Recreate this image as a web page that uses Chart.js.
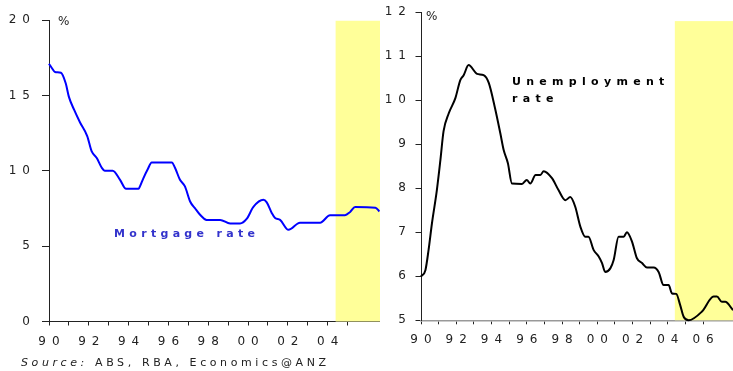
<!DOCTYPE html>
<html>
<head>
<meta charset="utf-8">
<script src="https://cdn.jsdelivr.net/npm/chart.js@4/dist/chart.umd.min.js"></script>
<style>
  body { margin: 0; background: #fff; width: 733px; height: 371px; overflow: hidden; position: relative; }
  #left { position: absolute; left: 0; top: 0; }
  #right { position: absolute; left: 380px; top: 0; }
  #source { position: absolute; left: 21px; top: 356px; font: 11px "DejaVu Sans", sans-serif; letter-spacing: 3.6px; color: #222; white-space: nowrap; }
</style>
</head>
<body>
<canvas id="left" width="380" height="371"></canvas>
<canvas id="right" width="353" height="371"></canvas>
<div id="source"><i>Source:</i> ABS, RBA, Economics@ANZ</div>
<script>
// mortgage rate, % (decimal year -> value)
const mortgageDates = [1990.0, 1990.15, 1990.3, 1990.6, 1990.84, 1991.0, 1991.26, 1991.56, 1991.92, 1992.14,
  1992.4, 1992.65, 1992.8, 1993.2, 1993.57, 1993.87, 1994.5, 1994.57, 1994.74, 1994.96,
  1995.16, 1996.17, 1996.33, 1996.58, 1996.83, 1997.09, 1997.34, 1997.59, 1997.92, 1998.6,
  1999.1, 1999.6, 1999.93, 2000.27, 2000.77, 2000.94, 2001.19, 2001.36, 2001.61, 2002.03,
  2002.61, 2003.62, 2004.12, 2004.87, 2005.13, 2005.38, 2006.4, 2006.6];
const mortgageRates = [17.1, 16.8, 16.55, 16.5, 15.8, 14.9, 14.05, 13.2, 12.3, 11.3,
  10.85, 10.2, 10.0, 10.0, 9.4, 8.8, 8.8, 8.96, 9.5, 10.1,
  10.55, 10.55, 10.2, 9.4, 8.96, 7.96, 7.5, 7.08, 6.74, 6.74,
  6.5, 6.5, 6.8, 7.6, 8.07, 7.9, 7.2, 6.86, 6.74, 6.08,
  6.55, 6.55, 7.05, 7.05, 7.27, 7.6, 7.55, 7.3];

// unemployment rate, %
const unempDates = [1990.0, 1990.25, 1990.43, 1990.62, 1990.9, 1991.1, 1991.28, 1991.57, 1991.95, 1992.23,
  1992.42, 1992.7, 1993.18, 1993.55, 1993.84, 1994.2, 1994.5, 1994.69, 1994.93, 1995.16,
  1995.73, 1996.0, 1996.2, 1996.5, 1996.77, 1996.96, 1997.43, 1997.8, 1998.19, 1998.47,
  1998.75, 1999.04, 1999.32, 1999.5, 1999.79, 2000.08, 2000.27, 2000.45, 2000.74, 2000.93,
  2001.21, 2001.5, 2001.68, 2001.97, 2002.25, 2002.54, 2002.82, 2003.2, 2003.48, 2003.76,
  2004.05, 2004.24, 2004.48, 2004.7, 2004.9, 2005.18, 2005.94, 2006.6, 2006.79, 2007.07,
  2007.26, 2007.7];
const unempRates = [6.0, 6.14, 6.6, 7.2, 7.96, 8.64, 9.3, 9.7, 10.05, 10.46,
  10.57, 10.8, 10.6, 10.57, 10.4, 9.82, 9.25, 8.87, 8.57, 8.11,
  8.1, 8.19, 8.11, 8.3, 8.3, 8.39, 8.23, 7.96, 7.73, 7.8,
  7.58, 7.13, 6.9, 6.9, 6.6, 6.45, 6.3, 6.1, 6.18, 6.37,
  6.9, 6.9, 7.0, 6.79, 6.41, 6.3, 6.2, 6.2, 6.1, 5.8,
  5.8, 5.61, 5.6, 5.35, 5.08, 5.0, 5.2, 5.54, 5.54, 5.42,
  5.42, 5.23];

const forecastStart = 2004.4;
const leftYTicks = [0, 5, 10, 15, 20];
const rightYTicks = [5, 6, 7, 8, 9, 10, 11, 12];
const leftXLabels = ['90', '92', '94', '96', '98', '00', '02', '04'];
const rightXLabels = ['90', '92', '94', '96', '98', '00', '02', '04', '06'];

const FONT = '"DejaVu Sans", sans-serif';

// the source chart uses wide letter spacing, so draw text char by char
function spacedText(ctx, text, x, y, gap, align) {
  const chars = [...text];
  const w = chars.map(c => ctx.measureText(c).width);
  const total = w.reduce((a, b) => a + b, 0) + gap * (chars.length - 1);
  let cx = align === 'center' ? x - total / 2 : align === 'right' ? x - total : x;
  ctx.textAlign = 'left';
  chars.forEach((c, i) => { ctx.fillText(c, cx, y); cx += w[i] + gap; });
}

// yellow shading for the forecast period
const shade = {
  id: 'shade',
  beforeDatasetsDraw(chart, args, opts) {
    const { ctx, chartArea } = chart;
    const x = chart.scales.x, y = chart.scales.y;
    const x0 = x.getPixelForValue(forecastStart);
    const top = y.getPixelForValue(opts.top);
    ctx.save();
    ctx.fillStyle = '#ffff99';
    ctx.fillRect(x0, top, chartArea.right - x0, chartArea.bottom - top);
    ctx.restore();
  }
};

// tick labels, "%" and series name
const labels = {
  id: 'labels',
  afterDraw(chart, args, opts) {
    const { ctx } = chart;
    const x = chart.scales.x, y = chart.scales.y;
    ctx.save();
    ctx.font = '12px ' + FONT;
    ctx.fillStyle = '#222';
    ctx.textBaseline = 'middle';
    opts.xLabels.forEach(l => {
      const yr = 2000 + Number(l) - (Number(l) > 50 ? 100 : 0);
      spacedText(ctx, l, x.getPixelForValue(yr), y.bottom + opts.xLabelDy, 6, 'center');
    });
    opts.yTicks.forEach(v => {
      spacedText(ctx, String(v), y.left + opts.yLabelRight, y.getPixelForValue(v), 6, 'right');
    });
    ctx.textAlign = 'left';
    ctx.fillText('%', x.left + opts.pctDx, y.top + opts.pctDy);
    ctx.font = 'bold 11px ' + FONT;
    ctx.fillStyle = opts.color;
    opts.lines.forEach(l => spacedText(ctx, l.text, x.getPixelForValue(l.x), y.getPixelForValue(l.y), opts.gap, 'left'));
    ctx.restore();
  }
};

function makeChart(id, cfg) {
  return new Chart(document.getElementById(id), {
    type: 'line',
    data: {
      datasets: [{
        data: cfg.dates.map((d, i) => ({ x: d, y: cfg.values[i] })),
        borderColor: cfg.color,
        borderWidth: 2,
        pointRadius: 0,
        cubicInterpolationMode: 'monotone',
        clip: 4
      }]
    },
    options: {
      responsive: false,
      animation: false,
      layout: { padding: { top: cfg.top, left: 0, right: 0, bottom: 0 } },
      plugins: {
        legend: { display: false },
        tooltip: { enabled: false },
        shade: { top: cfg.shadeTop },
        labels: cfg.labels
      },
      scales: {
        x: {
          type: 'linear',
          min: 1990,
          max: cfg.xMax,
          afterBuildTicks: s => { s.ticks = s.ticks.filter(t => Number.isInteger(t.value)); },
          afterFit: s => { s.height = cfg.xHeight; },
          ticks: { stepSize: 1, autoSkip: false, display: false },
          grid: { drawOnChartArea: false, drawTicks: true, tickLength: 4, tickColor: '#222' },
          border: { color: cfg.xAxisColor, width: cfg.xAxisWidth }
        },
        y: {
          min: cfg.yTicks[0],
          max: cfg.yTicks[cfg.yTicks.length - 1],
          afterBuildTicks: s => { s.ticks = cfg.yTicks.map(v => ({ value: v })); },
          afterFit: s => { s.width = cfg.yWidth; },
          ticks: { display: false },
          grid: { drawOnChartArea: false, drawTicks: true, tickLength: cfg.yTickLen, tickColor: '#222' },
          border: { color: '#222', width: 1 }
        }
      }
    },
    plugins: [shade, labels]
  });
}

makeChart('left', {
  dates: mortgageDates, values: mortgageRates, color: '#0000ff',
  top: 20, xHeight: 49.5, yWidth: 49, yTickLen: 7, xMax: 2006.63,
  yTicks: leftYTicks, shadeTop: 19.95, xAxisColor: '#222', xAxisWidth: 1,
  labels: { xLabels: leftXLabels, yTicks: leftYTicks, xLabelDy: 20.5, yLabelRight: 30,
    pctDx: 9, pctDy: 1.5, color: '#3333cc', gap: 4.3,
    lines: [{ text: 'Mortgage rate', x: 1993.27, y: 5.8 }] }
});

makeChart('right', {
  dates: unempDates, values: unempRates, color: '#000',
  top: 12.3, xHeight: 50.7, yWidth: 41, yTickLen: 5.5, xMax: 2007.7,
  yTicks: rightYTicks, shadeTop: 11.8, xAxisColor: '#999', xAxisWidth: 1.5,
  labels: { xLabels: rightXLabels, yTicks: rightYTicks, xLabelDy: 19.7, yLabelRight: 26,
    pctDx: 5, pctDy: 5, color: '#000', gap: 5.3,
    lines: [{ text: 'Unemployment', x: 1995.16, y: 10.42 }, { text: 'rate', x: 1995.16, y: 10.03 }] }
});
</script>
</body>
</html>
